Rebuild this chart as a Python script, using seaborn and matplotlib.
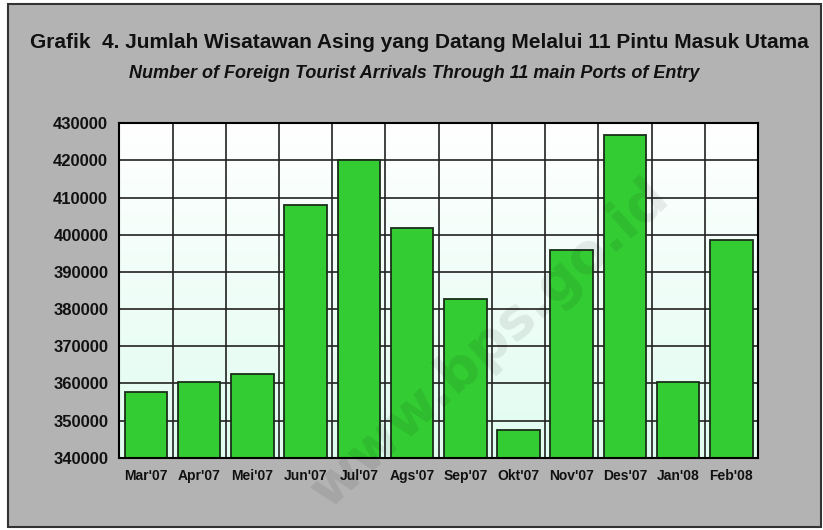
#! /usr/bin/env python3

import numpy as np
import pandas as pd
import seaborn as sns
import matplotlib.pyplot as plt
from matplotlib.patches import Rectangle
from matplotlib.colors import LinearSegmentedColormap

months = ["Mar'07", "Apr'07", "Mei'07", "Jun'07", "Jul'07", "Ags'07",
          "Sep'07", "Okt'07", "Nov'07", "Des'07", "Jan'08", "Feb'08"]
arrivals = [357600, 360300, 362400, 407900, 420000, 401900,
            382800, 347400, 396000, 426800, 360300, 398500]
yticks = list(range(340000, 430001, 10000))

title = 'Grafik  4. Jumlah Wisatawan Asing yang Datang Melalui 11 Pintu Masuk Utama'
subtitle = 'Number of Foreign Tourist Arrivals Through 11 main Ports of Entry'


def plot(output):
    sns.set_style('white')
    plt.rcParams['font.family'] = ['Liberation Sans', 'DejaVu Sans']

    df = pd.DataFrame({'month': months, 'arrivals': arrivals})

    fig = plt.figure(figsize=(8.23, 5.30), dpi=100, facecolor='white')
    # grey panel with a dark frame
    fig.patches.append(Rectangle((8 / 823, 3 / 530), 813 / 823, 523 / 530,
                                 transform=fig.transFigure, facecolor='#b3b3b3',
                                 edgecolor='#333333', linewidth=1.5, zorder=-1))

    ax = fig.add_axes([0.145, 0.1364, 0.776, 0.631])

    # white-to-mint background of the plot area
    cmap = LinearSegmentedColormap.from_list('bg', ['#e0fcf0', '#ffffff'])
    grad = np.linspace(0, 1, 256).reshape(-1, 1)
    ax.imshow(grad, extent=[-0.5, len(months) - 0.5, yticks[0], yticks[-1]],
              origin='lower', aspect='auto', cmap=cmap, zorder=0)

    sns.barplot(data=df, x='month', y='arrivals', color='#33cc33',
                saturation=1, edgecolor='#1a2e1a', linewidth=1.3,
                width=0.8, ax=ax, zorder=3)

    ax.set_xlim(-0.5, len(months) - 0.5)
    ax.set_ylim(yticks[0], yticks[-1])
    ax.set_yticks(yticks)
    ax.set_yticklabels([str(v) for v in yticks], fontsize=12, fontweight='bold',
                       color='#111111')
    ax.set_xticks(range(len(months)))
    ax.set_xticklabels(months, fontsize=10, fontweight='bold', color='#111111')
    ax.tick_params(axis='both', length=0, pad=8)
    ax.set(xlabel='', ylabel='')

    for v in yticks[1:-1]:
        ax.axhline(v, color='#222222', linewidth=1.2, zorder=1)
    for i in range(1, len(months)):
        ax.axvline(i - 0.5, color='#222222', linewidth=1.2, zorder=1)
    for s in ax.spines.values():
        s.set_visible(True)
        s.set_color('black')
        s.set_linewidth(1.5)
        s.set_zorder(5)

    fig.text(0.51, 1 - 42 / 530, title, ha='center', va='center',
             fontsize=15, fontweight='bold', color='#111111')
    fig.text(0.503, 1 - 74 / 530, subtitle, ha='center', va='center',
             fontsize=13, fontweight='bold', style='italic', color='#111111')

    # faint watermark
    fig.text(0.595, 0.35, 'www.bps.go.id', rotation=42, ha='center', va='center',
             fontsize=40, fontweight='bold', color='black', alpha=0.08,
             family='DejaVu Sans', zorder=10)

    plt.savefig(output, dpi=100, facecolor=fig.get_facecolor())


def main():
    plot('out.png')


if __name__ == '__main__':
    main()
